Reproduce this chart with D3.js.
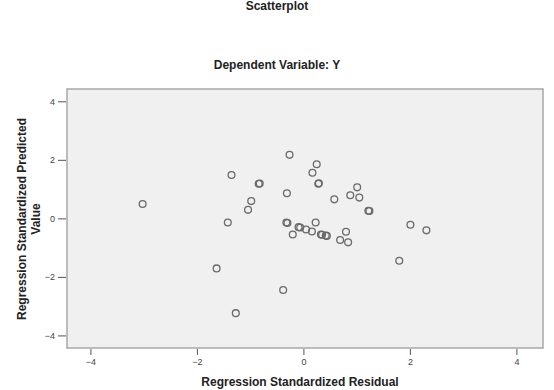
<!DOCTYPE html>
<html>
<head>
<meta charset="utf-8">
<script src="https://cdn.jsdelivr.net/npm/d3@7"></script>
<style>
  body { margin: 0; background: #fff; }
  svg text { font-family: "Liberation Sans", Arial, sans-serif; }
</style>
</head>
<body>
<div id="chart"></div>
<script>
// values
var residuals = [-3.02, -1.35, -0.84, -0.82, -0.26, -0.31, -0.98, -1.04, -1.42, -0.32, -0.30,
                 -0.09, -0.06, 0.05, -0.20, -1.63, -0.38, -1.27, 0.25, 0.17, 0.28, 0.29,
                 0.58, 1.01, 0.88, 1.05, 1.22, 1.24, 0.23, 0.16, 0.33, 0.35, 0.42, 0.44,
                 0.80, 0.69, 0.84, 2.01, 2.31, 1.80];
var predicted = [0.49, 1.48, 1.18, 1.19, 2.17, 0.86, 0.59, 0.29, -0.14, -0.14, -0.16,
                 -0.30, -0.31, -0.38, -0.55, -1.71, -2.45, -3.24, 1.85, 1.56, 1.18, 1.20,
                 0.65, 1.06, 0.79, 0.71, 0.26, 0.25, -0.14, -0.45, -0.55, -0.56, -0.59, -0.60,
                 -0.46, -0.74, -0.82, -0.22, -0.41, -1.45];
var xTicks = [-4, -2, 0, 2, 4];
var yTicks = [-4, -2, 0, 2, 4];

var width = 554, height = 390;
var svg = d3.select("#chart").append("svg")
    .attr("width", width)
    .attr("height", height);

var x = d3.scaleLinear().domain([-4.44, 4.5]).range([67, 543]);
var y = d3.scaleLinear().domain([-4.43, 4.42]).range([348, 89]);

// titles
svg.append("text")
    .attr("x", 277).attr("y", 10)
    .attr("text-anchor", "middle")
    .style("font-size", "12px").style("font-weight", "bold").style("fill", "#222")
    .text("Scatterplot");

svg.append("text")
    .attr("x", 277).attr("y", 69)
    .attr("text-anchor", "middle")
    .style("font-size", "12px").style("font-weight", "bold").style("fill", "#222")
    .text("Dependent Variable: Y");

// plot box
svg.append("rect")
    .attr("x", x.range()[0]).attr("y", y.range()[1])
    .attr("width", x.range()[1] - x.range()[0])
    .attr("height", y.range()[0] - y.range()[1])
    .style("fill", "#f0f0f0")
    .style("stroke", "#a8a8a8")
    .style("stroke-width", 1.5);

// axes
var xAxis = svg.append("g")
    .attr("transform", "translate(0," + (y.range()[0] + 1) + ")")
    .call(d3.axisBottom(x).tickValues(xTicks).tickSize(6).tickPadding(4).tickSizeOuter(0));
var yAxis = svg.append("g")
    .attr("transform", "translate(" + (x.range()[0] - 1) + ",0)")
    .call(d3.axisLeft(y).tickValues(yTicks).tickSize(8).tickPadding(3).tickSizeOuter(0));

[xAxis, yAxis].forEach(function (g) {
    g.select(".domain").remove();
    g.selectAll(".tick line").style("stroke", "#555");
    g.selectAll(".tick text")
        .style("font-size", "9px")
        .style("fill", "#444")
        .style("font-family", "\"Liberation Sans\", Arial, sans-serif");
});

// axis titles
svg.append("text")
    .attr("x", 300).attr("y", 386)
    .attr("text-anchor", "middle")
    .style("font-size", "12px").style("font-weight", "bold").style("fill", "#222")
    .text("Regression Standardized Residual");

var yTitle = svg.append("text")
    .attr("transform", "translate(26,219) rotate(-90)")
    .attr("text-anchor", "middle")
    .style("font-size", "12px").style("font-weight", "bold").style("fill", "#222");
yTitle.append("tspan").attr("x", 0).attr("dy", 0).text("Regression Standardized Predicted");
yTitle.append("tspan").attr("x", 0).attr("dy", 14).text("Value");

// points
var points = residuals.map(function (r, i) { return { r: r, p: predicted[i] }; });
svg.append("g").selectAll("circle")
    .data(points)
    .enter().append("circle")
    .attr("cx", function (d) { return x(d.r); })
    .attr("cy", function (d) { return y(d.p); })
    .attr("r", 3.4)
    .style("fill", "none")
    .style("stroke", "#6a6a6a")
    .style("stroke-width", 1.3);
</script>
</body>
</html>
